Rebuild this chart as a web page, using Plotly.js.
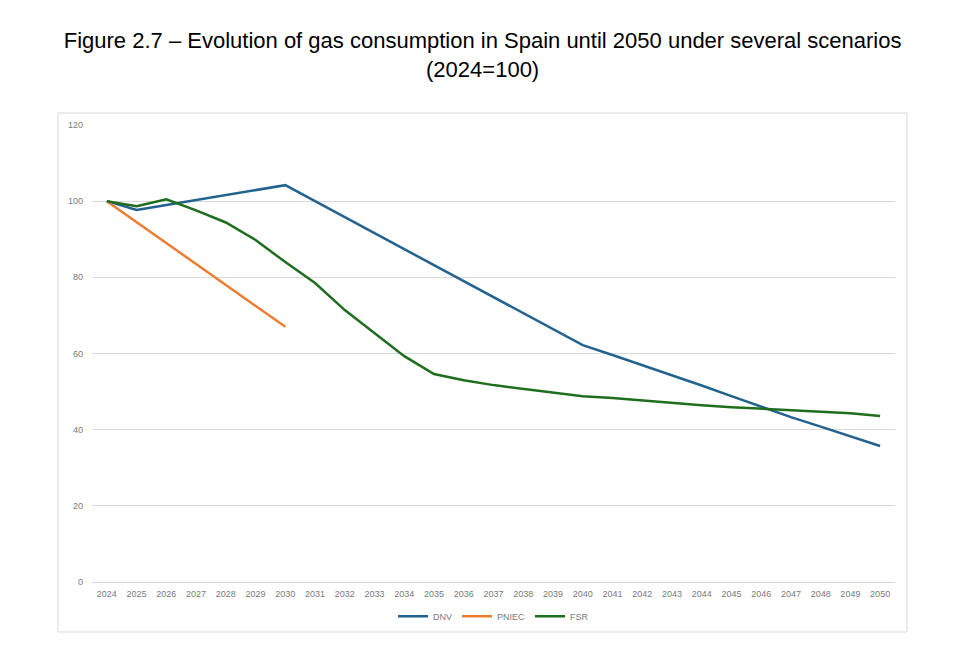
<!DOCTYPE html>
<html>
<head>
<meta charset="utf-8">
<script src="https://cdn.plot.ly/plotly-3.0.1.min.js"></script>
<style>
  html, body { margin: 0; padding: 0; background: #ffffff; }
  #chart { width: 975px; height: 670px; }
</style>
</head>
<body>
<div id="chart"></div>
<script>
// Gas consumption index (2024 = 100) by scenario
const years = ['2024','2025','2026','2027','2028','2029','2030','2031','2032','2033',
               '2034','2035','2036','2037','2038','2039','2040','2041','2042','2043',
               '2044','2045','2046','2047','2048','2049','2050'];

const dnv = [100, 97.7, 99.0, 100.3, 101.6, 102.9, 104.2, 100.0, 95.8, 91.6,
             87.4, 83.2, 79.0, 74.8, 70.6, 66.4, 62.2, 59.6, 57.0, 54.3,
             51.6, 48.8, 46.0, 43.3, 40.8, 38.2, 35.7];

const pniecYears = ['2024','2025','2026','2027','2028','2029','2030'];
const pniec = [100, 94.5, 89.0, 83.5, 78.0, 72.5, 67.0];

const fsr = [100, 98.7, 100.5, 97.6, 94.4, 89.8, 84.0, 78.5, 71.4, 65.4,
             59.3, 54.6, 53.0, 51.7, 50.7, 49.7, 48.8, 48.3, 47.6, 47.0,
             46.4, 45.9, 45.5, 45.1, 44.7, 44.3, 43.6];

const yTicks = [0, 20, 40, 60, 80, 100, 120];

const font = 'Liberation Sans, Arial, sans-serif';
const tickGray = '#7a7a7a';
const gridGray = '#d9d9d9';

const traces = [
  { name: 'DNV', x: years, y: dnv, type: 'scatter', mode: 'lines',
    line: { color: '#22628f', width: 2.5 } },
  { name: 'PNIEC', x: pniecYears, y: pniec, type: 'scatter', mode: 'lines',
    line: { color: '#ed7d31', width: 2.5 } },
  { name: 'FSR', x: years, y: fsr, type: 'scatter', mode: 'lines',
    line: { color: '#1e6e1e', width: 2.5 } }
];

const layout = {
  width: 975,
  height: 670,
  paper_bgcolor: '#ffffff',
  plot_bgcolor: '#ffffff',
  margin: { l: 92, r: 80, t: 125, b: 88 },
  title: {
    text: 'Figure 2.7 \u2013 Evolution of gas consumption in Spain until 2050 under several scenarios<br>(2024=100)',
    font: { family: font, size: 22, color: '#000000' },
    x: 0.495, xanchor: 'center', xref: 'container',
    y: 0.928, yanchor: 'top', yref: 'container'
  },
  xaxis: {
    type: 'category',
    categoryorder: 'array',
    categoryarray: years,
    range: [-0.5, years.length - 0.5],
    showgrid: false,
    showline: false,
    zeroline: false,
    ticks: '',
    tickfont: { family: font, size: 9, color: tickGray },
    ticklabelstandoff: 5,
    fixedrange: true
  },
  yaxis: {
    range: [0, 120],
    tickvals: yTicks,
    ticktext: yTicks.map(String),
    showgrid: true,
    gridcolor: gridGray,
    gridwidth: 1,
    zeroline: true,
    zerolinecolor: gridGray,
    zerolinewidth: 1,
    showline: false,
    ticks: '',
    tickfont: { family: font, size: 9, color: tickGray },
    ticklabelstandoff: 8,
    fixedrange: true
  },
  showlegend: true,
  legend: {
    orientation: 'h',
    x: 0.5, xanchor: 'center',
    y: -0.075, yanchor: 'middle',
    font: { family: font, size: 9, color: tickGray },
    itemwidth: 30,
    tracegroupgap: 0,
    bgcolor: 'rgba(0,0,0,0)'
  },
  shapes: [
    { type: 'rect', xref: 'paper', yref: 'paper',
      x0: -0.0423, x1: 1.0149, y0: -0.1094, y1: 1.0263,
      line: { color: gridGray, width: 1 }, fillcolor: 'rgba(0,0,0,0)', layer: 'below' }
  ]
};

Plotly.newPlot('chart', traces, layout, { displayModeBar: false, staticPlot: true });
</script>
</body>
</html>
